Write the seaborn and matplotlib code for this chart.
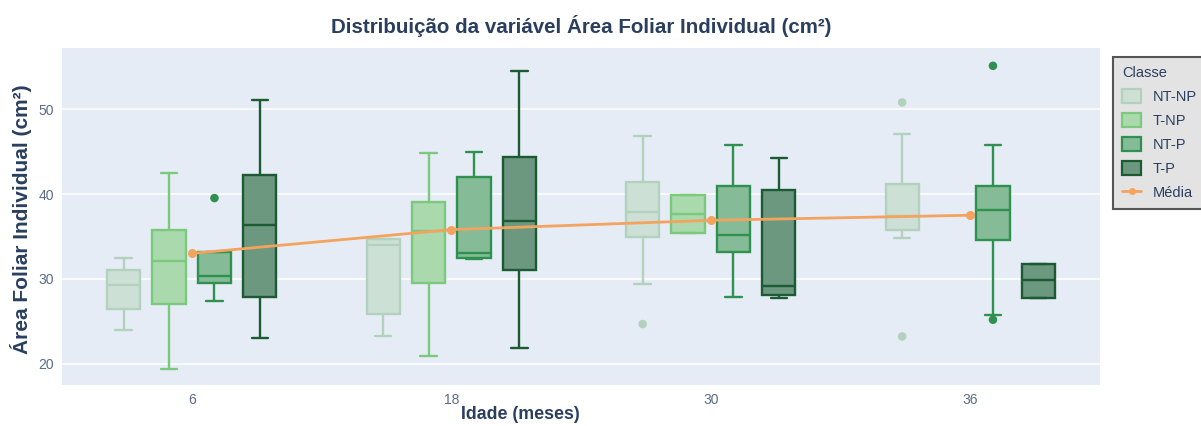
import numpy as np
import pandas as pd
import matplotlib
matplotlib.use("Agg")
import matplotlib.pyplot as plt
import seaborn as sns
from matplotlib.patches import Patch
from matplotlib.lines import Line2D

# Ages (months) and treatment classes
idades = ["6", "18", "30", "36"]
classes = ["NT-NP", "T-NP", "NT-P", "T-P"]

# Box statistics per class and age: lower whisker, Q1, median, Q3, upper whisker (nan = no sample)
ntnp_low = [23.97, 23.30, 29.39, 34.81]
ntnp_q1 = [26.48, 25.90, 34.88, 35.79]
ntnp_med = [29.23, 34.02, 37.91, 37.40]
ntnp_q3 = [31.00, 34.73, 41.36, 41.17]
ntnp_high = [32.45, 34.73, 46.78, 47.06]

tnp_low = [19.38, 20.87, 35.39, np.nan]
tnp_q1 = [27.03, 29.51, 35.39, np.nan]
tnp_med = [32.14, 35.60, 37.67, np.nan]
tnp_q3 = [35.71, 39.01, 39.87, np.nan]
tnp_high = [42.46, 44.82, 39.87, np.nan]

ntp_low = [27.42, 32.33, 27.82, 25.70]
ntp_q1 = [29.51, 32.45, 33.12, 34.53]
ntp_med = [30.37, 33.04, 35.12, 38.10]
ntp_q3 = [33.12, 41.95, 40.97, 40.97]
ntp_high = [33.12, 44.90, 45.80, 45.80]

tp_low = [22.99, 21.89, 27.70, 27.74]
tp_q1 = [27.86, 31.08, 28.05, 27.74]
tp_med = [36.38, 36.85, 29.19, 29.82]
tp_q3 = [42.19, 44.35, 40.50, 31.78]
tp_high = [51.10, 54.44, 44.27, 31.78]

# Outlying observations
outlier_idade = ["6", "30", "36", "36", "36", "36"]
outlier_classe = ["NT-P", "NT-NP", "NT-NP", "NT-NP", "NT-P", "NT-P"]
outlier_valor = [39.52, 24.68, 50.79, 23.22, 55.10, 25.19]

# Mean per age
medias = [33.0, 35.8, 36.9, 37.5]

line_colors = {"NT-NP": "#b3d2bd", "T-NP": "#7cc97e", "NT-P": "#2e9150", "T-P": "#1b5a33"}
fill_colors = {"NT-NP": "#cde0d5", "T-NP": "#a9d9ac", "NT-P": "#86bb97", "T-P": "#6d9880"}
mean_color = "#f4a35e"
text_color = "#2a3f5f"

stats = {
    "NT-NP": (ntnp_low, ntnp_q1, ntnp_med, ntnp_q3, ntnp_high),
    "T-NP": (tnp_low, tnp_q1, tnp_med, tnp_q3, tnp_high),
    "NT-P": (ntp_low, ntp_q1, ntp_med, ntp_q3, ntp_high),
    "T-P": (tp_low, tp_q1, tp_med, tp_q3, tp_high),
}

# Long table: five values per box reproduce its quartiles and whisker ends exactly
rows = []
for cls, arrays in stats.items():
    for i, idade in enumerate(idades):
        vals = [a[i] for a in arrays]
        if np.isnan(vals[0]):
            continue
        for v in vals:
            rows.append({"Idade": idade, "Classe": cls, "valor": v})
df = pd.DataFrame(rows)

sns.set_theme(style="darkgrid", rc={
    "axes.facecolor": "#E5ECF6",
    "grid.color": "white",
    "grid.linewidth": 1.1,
    "axes.edgecolor": "none",
})
plt.rcParams["font.family"] = ["Liberation Sans", "DejaVu Sans"]

fig, ax = plt.subplots(figsize=(12.01, 4.26), dpi=100)
fig.subplots_adjust(left=62 / 1201, right=1100 / 1201, bottom=1 - 385 / 426, top=1 - 48 / 426)

box_width = 0.7
for cls in classes:
    sns.boxplot(
        data=df[df["Classe"] == cls], x="Idade", y="valor", hue="Classe",
        order=idades, hue_order=classes, palette=fill_colors, saturation=1,
        dodge=True, width=box_width, gap=0.27, whis=(0, 100), showfliers=False,
        linecolor=line_colors[cls], linewidth=1.7, legend=False, ax=ax,
    )

# Outlier points at the dodged box positions
n_cls = len(classes)
ox = [idades.index(a) + (classes.index(c) - (n_cls - 1) / 2) * box_width / n_cls
      for a, c in zip(outlier_idade, outlier_classe)]
sns.scatterplot(x=ox, y=outlier_valor, hue=outlier_classe, palette=line_colors,
                s=38, edgecolor="none", legend=False, ax=ax, zorder=5)

# Mean line across ages
sns.pointplot(x=idades, y=medias, order=idades, color=mean_color, markers="o",
              markersize=5, linewidth=2, errorbar=None, ax=ax, zorder=6)

ax.set_xlim(-0.5, 3.5)
ax.set_ylim(17.5, 57.2)
ax.set_yticks([20, 30, 40, 50])
ax.grid(axis="x", visible=False)
ax.grid(axis="y", visible=True)
ax.tick_params(axis="both", colors="#5b6b86", labelsize=10, length=0, pad=6)

ax.set_title("Distribuição da variável Área Foliar Individual (cm²)",
             fontsize=14.8, fontweight="bold", color=text_color, pad=11)
ax.set_xlabel("Idade (meses)", fontsize=12.8, fontweight="bold", color=text_color)
ax.set_ylabel("Área Foliar Individual (cm²)", fontsize=15, fontweight="bold", color=text_color)
ax.xaxis.set_label_coords(0.442, -0.063)
ax.yaxis.set_label_coords(-0.029, 0.493)

handles = [Patch(facecolor=fill_colors[c], edgecolor=line_colors[c], linewidth=1.6) for c in classes]
handles.append(Line2D([0], [0], color=mean_color, lw=2, marker="o", markersize=4))
labels = classes + ["Média"]
leg = fig.legend(handles, labels, title="Classe", loc="upper left",
                 bbox_to_anchor=(1106 / 1201, 1 - 50 / 426), frameon=True,
                 facecolor="#e3e3e3", edgecolor="#555555", framealpha=1,
                 fontsize=10.5, title_fontsize=10.5, alignment="left",
                 handlelength=1.3, handleheight=1.1, handletextpad=0.8,
                 labelspacing=0.62, borderpad=0.6, fancybox=False)
leg.get_frame().set_linewidth(1.5)
for t in leg.get_texts():
    t.set_color(text_color)
leg.get_title().set_color(text_color)

fig.savefig("out.png", dpi=100)
